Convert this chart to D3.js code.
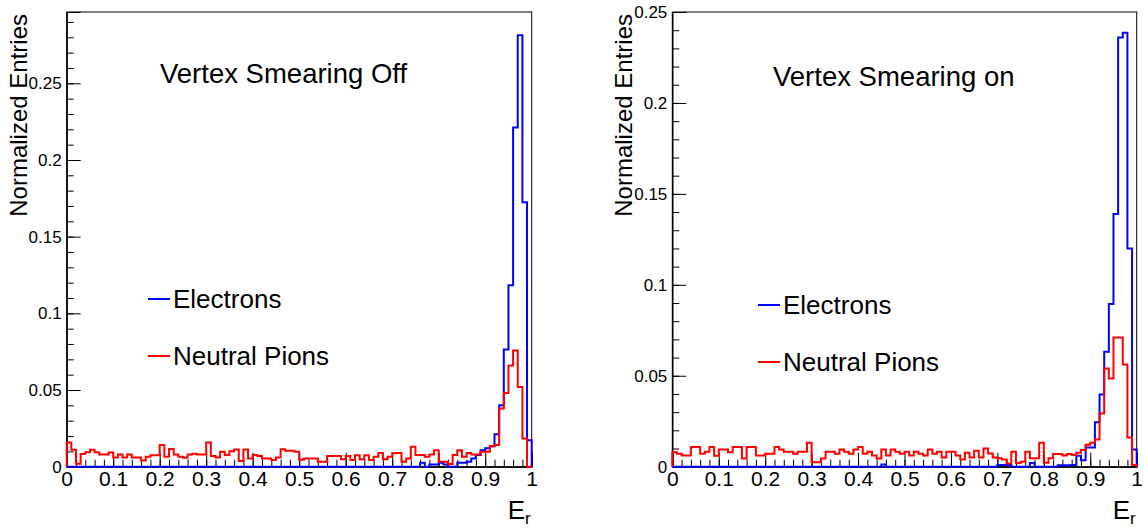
<!DOCTYPE html>
<html>
<head>
<meta charset="utf-8">
<script src="https://cdn.jsdelivr.net/npm/d3@7"></script>
<style>
  body { margin: 0; background: #fff; }
  text { font-family: "Liberation Sans", Arial, Helvetica, sans-serif; fill: #000; }
</style>
</head>
<body>
<main></main>
<script>
// data: 100 bins of E_r from 0 to 1
const binCount = 100
const xTickLabels = ['0', '0.1', '0.2', '0.3', '0.4', '0.5', '0.6', '0.7', '0.8', '0.9', '1']
const yTickValues = [0, 0.05, 0.1, 0.15, 0.2, 0.25]
const seriesNames = ['Electrons', 'Neutral Pions']
const panelTitles = ['Vertex Smearing Off', 'Vertex Smearing on']

// smearing off
const offElectrons = [
  0,0,0,0,0,0,0,0,0,0, 0,0,0,0,0,0,0,0,0,0,
  0,0,0,0,0,0,0,0,0,0, 0,0,0,0,0,0,0,0,0,0,
  0,0,0,0,0,0,0,0,0,0, 0,0,0,0,0,0,0,0,0,0,
  0,0,0,0,0,0,0,0,0,0, 0,0,0,0,0,0,0.0026,0,0.0015,0.0015,
  0.0026,0.0015,0,0,0.0026,0.0026,0.0032,0.0054,0.0076,0.0108,
  0.012,0.0134,0.0212,0.040,0.0764,0.1184,0.2212,0.2814,0.1725,0.0173
]
const offPions = [
  0.0158,0.011,0.002,0.0083,0.0095,0.011,0.0095,0.008,0.008,0.0093,
  0.006,0.008,0.006,0.008,0.006,0.006,0.004,0.0065,0.0075,0.0075,
  0.0142,0.0065,0.0115,0.008,0.0065,0.0058,0.008,0.0085,0.008,0.008,
  0.0158,0.0069,0.006,0.0097,0.0076,0.0101,0.0112,0.0037,0.0112,0.0054,
  0.0076,0.0069,0.0054,0.0054,0.0043,0.006,0.0114,0.0104,0.0104,0.0097,
  0.0045,0.0054,0.0054,0.0054,0.0032,0.0032,0.0069,0.0069,0.0069,0.0048,
  0.0069,0.0043,0.0075,0.0048,0.0075,0.0043,0.0065,0.009,0.0048,0.0065,
  0.0087,0.009,0.0032,0.0054,0.013,0.0076,0.0076,0.0065,0.008,0.0108,
  0.0032,0.0032,0.0017,0.0076,0.0108,0.0065,0.009,0.008,0.008,0.0097,
  0.0097,0.0134,0.0141,0.0379,0.048,0.066,0.0758,0.052,0.0184,0
]

// smearing on
const onElectrons = [
  0,0,0,0,0,0,0,0,0,0, 0,0,0,0,0,0,0,0,0,0,
  0,0,0,0,0,0,0,0,0,0, 0,0,0,0,0,0,0,0,0,0,
  0,0,0,0,0,0.0012,0,0,0,0, 0,0,0,0,0,0,0,0,0,0,
  0,0,0,0,0,0,0,0,0,0, 0.001,0.001,0.001,0,0,0,0,0.002,0,0,
  0,0,0,0.0008,0.0008,0.0008,0.001,0.006,0.0035,0.0105,
  0.0106,0.0244,0.0397,0.0632,0.0894,0.139,0.236,0.2386,0.12,0.0095
]
const onPions = [
  0.008,0.0071,0.0062,0.0062,0.0108,0.0108,0.0071,0.0082,0.0108,0.006,
  0.0095,0.0095,0.008,0.0108,0.0108,0.0045,0.0108,0.0108,0.0062,0.0062,
  0.0071,0.0071,0.0108,0.0095,0.0082,0.0082,0.0071,0.0082,0.0082,0.0132,
  0.0025,0.0025,0.0045,0.0082,0.0082,0.0071,0.0095,0.0082,0.0071,0.0095,
  0.0108,0.0071,0.0082,0.0062,0.0045,0.0095,0.0062,0.0095,0.0082,0.0071,
  0.0082,0.0062,0.0082,0.0071,0.0062,0.0095,0.0071,0.0082,0.005,0.0082,
  0.0082,0.0062,0.004,0.0077,0.005,0.0088,0.005,0.01,0.0073,0.005,
  0.0046,0.004,0.0018,0.0082,0.002,0.0027,0.0082,0.0046,0.0046,0.0132,
  0.0022,0.0046,0.007,0.007,0.0062,0.007,0.0064,0.0077,0.0092,0.012,
  0.0132,0.015,0.0293,0.054,0.0485,0.071,0.071,0.0562,0.016,0.001
]

// panel layout
const panels = [
  { left: 66.7, right: 531.7, top: 12, bottom: 466.7, yMax: 0.2965,
    electrons: offElectrons, pions: offPions, title: panelTitles[0],
    titleX: 160, titleY: 83, legendX: 148, legendY: [299, 356], yTitleX: 27 },
  { left: 672.3, right: 1136.7, top: 12, bottom: 466.7, yMax: 0.25,
    electrons: onElectrons, pions: onPions, title: panelTitles[1],
    titleX: 773, titleY: 86, legendX: 758, legendY: [305, 362], yTitleX: 632 }
]
const colors = ['#0000ff', '#ff0000']

const svg = d3.select('main')
  .append('svg')
  .attr('width', 1145)
  .attr('height', 529)
  .style('display', 'block')

// step outline of a histogram
const histPath = (values, x, y) => {
  const pts = [[x(0), y(0)]]
  values.forEach((v, i) => {
    pts.push([x(i / binCount), y(v)])
    pts.push([x((i + 1) / binCount), y(v)])
  })
  pts.push([x(1), y(0)])
  return d3.line()(pts)
}

panels.forEach(p => {
  const x = d3.scaleLinear().domain([0, 1]).range([p.left, p.right])
  const y = d3.scaleLinear().domain([0, p.yMax]).range([p.bottom, p.top])
  const g = svg.append('g')

  // frame
  g.append('rect')
    .attr('x', p.left).attr('y', p.top)
    .attr('width', p.right - p.left).attr('height', p.bottom - p.top)
    .attr('fill', 'none').attr('stroke', '#000').attr('stroke-width', 1)

  // y axis, ticks pointing into the frame
  const yMinor = d3.range(0, p.yMax + 1e-9, 0.01)
  g.append('g')
    .attr('transform', `translate(${p.left},0)`)
    .call(d3.axisLeft(y).tickValues(yMinor).tickSize(-7).tickFormat(''))
  g.append('g')
    .attr('transform', `translate(${p.left},0)`)
    .call(d3.axisLeft(y).tickValues(yTickValues).tickSize(-14).tickPadding(5)
      .tickFormat(d3.format('')))
    .selectAll('text').style('font-size', '17px')

  // x axis
  g.append('g')
    .attr('transform', `translate(0,${p.bottom})`)
    .call(d3.axisBottom(x).tickValues(d3.range(0, 1.0001, 0.02)).tickSize(-7).tickFormat(''))
  g.append('g')
    .attr('transform', `translate(0,${p.bottom})`)
    .call(d3.axisBottom(x).tickValues(xTickLabels.map(Number)).tickSize(-14).tickPadding(4)
      .tickFormat((d, i) => xTickLabels[i]))
    .selectAll('text').style('font-size', '21px')

  g.selectAll('.domain').attr('stroke', '#000')
  g.selectAll('.tick line').attr('stroke', '#000')

  // histograms
  ;[p.electrons, p.pions].forEach((vals, k) => {
    g.append('path')
      .attr('d', histPath(vals, x, y))
      .attr('fill', 'none')
      .attr('stroke', colors[k])
      .attr('stroke-width', 2)
  })

  // title
  g.append('text')
    .attr('x', p.titleX).attr('y', p.titleY)
    .style('font-size', '27.5px')
    .text(p.title)

  // legend
  seriesNames.forEach((name, k) => {
    g.append('line')
      .attr('x1', p.legendX).attr('x2', p.legendX + 22)
      .attr('y1', p.legendY[k]).attr('y2', p.legendY[k])
      .attr('stroke', colors[k]).attr('stroke-width', 2)
    g.append('text')
      .attr('x', p.legendX + 25).attr('y', p.legendY[k] + 9)
      .style('font-size', '26px')
      .text(name)
  })

  // axis titles
  g.append('text')
    .attr('transform', `translate(${p.yTitleX},${p.top + 2}) rotate(-90)`)
    .attr('text-anchor', 'end')
    .style('font-size', '24px')
    .text('Normalized Entries')

  const xt = g.append('text')
    .attr('x', p.right - 1).attr('y', 519)
    .attr('text-anchor', 'end')
    .style('font-size', '26px')
  xt.append('tspan').text('E')
  xt.append('tspan').attr('dy', 5).style('font-size', '17px').text('r')
})
</script>
</body>
</html>
